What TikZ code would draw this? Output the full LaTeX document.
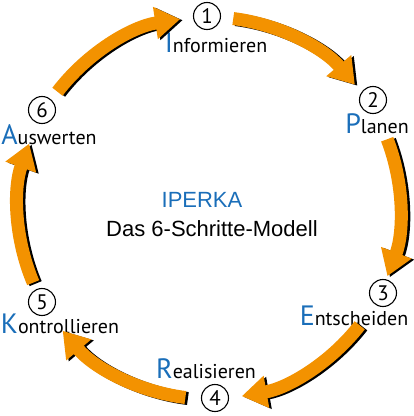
\documentclass[tikz,border=0pt]{standalone}
\usepackage{fontspec}
\setmainfont{PT Sans}
\newfontfamily\titlefont{Liberation Sans}
\usepackage{xcolor}
\usepackage{tikz}
\usetikzlibrary{positioning,arrows.meta}
\definecolor{ipkorange}{RGB}{243,146,0}
\definecolor{ipkblue}{RGB}{26,110,185}
\newcommand{\initial}[1]{{\color{ipkblue}\fontsize{28}{28}\selectfont #1}}

\begin{document}
\begin{tikzpicture}[
    x=1pt, y=1pt,
    font=\fontsize{20}{20}\selectfont,
    numcircle/.style={
        draw,
        circle,
        line width=1.1pt,
        minimum size=27pt,
        inner sep=0pt,
        font=\fontsize{21}{21}\selectfont
    },
    phase/.style={inner sep=0pt},
    ringarrow/.style={ipkorange, line width=13pt,
                      -{Triangle[width=31pt,length=25pt]}},
    ringshadow/.style={ringarrow, black},
    title/.style={font=\titlefont\fontsize{22}{22}\selectfont, inner sep=0pt}
]

\useasboundingbox (-209,-208) rectangle (205,208);
\coordinate (c) at (0,0);
\coordinate (cs) at (2.5,-1);

\node[numcircle] (n1) at (-2,192) {1};
\node[numcircle] (n2) at (164,108) {2};
\node[numcircle] (n3) at (174,-85) {3};
\node[numcircle] (n4) at (6,-190) {4};
\node[numcircle] (n5) at (-167,-94) {5};
\node[numcircle] (n6) at (-167,98) {6};

\node[phase, below=3pt of n1, xshift=9pt] (lab1) {\initial{I}nformieren};
\node[phase, below=-1pt of n2, xshift=4pt] (lab2) {\initial{P}lanen};
\node[phase, below=-1pt of n3, xshift=-29pt] (lab3) {\initial{E}ntscheiden};
\node[phase, above=5pt of n4, xshift=-9pt] (lab4) {\initial{R}ealisieren};
\node[phase, below=-2pt of n5, xshift=18pt] (lab5) {\initial{K}ontrollieren};
\node[phase, below=0pt of n6, xshift=7pt] (lab6) {\initial{A}uswerten};

\node[title, text=ipkblue] (iperka) at (-7,8) {IPERKA};
\node[title, below=13pt of iperka, xshift=10pt] (modell) {Das 6-Schritte-Modell};

% ring of arrows, black copy slightly to the right
\foreach \a/\b in {142.5/98.7, 82.7/40.2, 21.1/-20.9, -37.9/-80.1, -97.1/-140, -157/-199.7} {
    \draw[ringshadow] (cs) ++(\a:191) arc[start angle=\a, end angle=\b, radius=191];
    \draw[ringarrow] (c) ++(\a:191) arc[start angle=\a, end angle=\b, radius=191];
}

\end{tikzpicture}
\end{document}
